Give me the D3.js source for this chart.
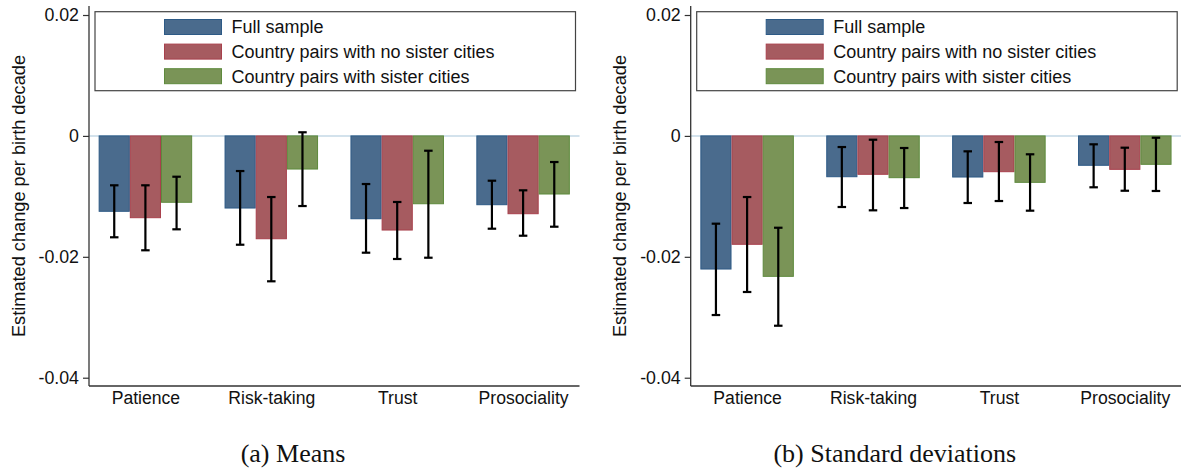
<!DOCTYPE html>
<html>
<head>
<meta charset="utf-8">
<script src="https://cdn.jsdelivr.net/npm/d3@7"></script>
<style>
  html, body { margin: 0; padding: 0; background: #fff; }
  svg { display: block; }
  text { font-family: "Liberation Sans", Arial, Helvetica, sans-serif; fill: #111; }
  .caption { font-family: "Liberation Serif", "Times New Roman", serif; }
</style>
</head>
<body>
<svg id="chart" width="1181" height="472"></svg>
<script>
// ---------- data ----------
const categories = ["Patience", "Risk-taking", "Trust", "Prosociality"];
const seriesNames = ["Full sample", "Country pairs with no sister cities", "Country pairs with sister cities"];
const yTicks = [0.02, 0, -0.02, -0.04];
const yTickLabels = ["0.02", "0", "-0.02", "-0.04"];
const yTitle = "Estimated change per birth decade";
const panelCaptions = ["(a) Means", "(b) Standard deviations"];

// Panel (a) Means: point estimates and 95% CI bounds
const meansFull       = [-0.01247, -0.01193, -0.01370, -0.01138];
const meansFullLo     = [-0.01677, -0.01800, -0.01932, -0.01535];
const meansFullHi     = [-0.00817, -0.00581, -0.00796, -0.00741];
const meansNoSister   = [-0.01353, -0.01701, -0.01557, -0.01287];
const meansNoSisterLo = [-0.01892, -0.02405, -0.02036, -0.01651];
const meansNoSisterHi = [-0.00817, -0.01011, -0.01093, -0.00900];
const meansSister     = [-0.01098, -0.00548, -0.01122, -0.00961];
const meansSisterLo   = [-0.01545, -0.01160, -0.02015, -0.01502];
const meansSisterHi   = [-0.00675,  0.00060, -0.00245, -0.00432];

// Panel (b) Standard deviations
const sdFull       = [-0.02202, -0.00675, -0.00680, -0.00486];
const sdFullLo     = [-0.02963, -0.01176, -0.01110, -0.00850];
const sdFullHi     = [-0.01452, -0.00184, -0.00255, -0.00139];
const sdNoSister   = [-0.01793, -0.00635, -0.00592, -0.00553];
const sdNoSisterLo = [-0.02582, -0.01231, -0.01077, -0.00907];
const sdNoSisterHi = [-0.01011, -0.00063, -0.00101, -0.00195];
const sdSister     = [-0.02323, -0.00691, -0.00768, -0.00470];
const sdSisterLo   = [-0.03140, -0.01193, -0.01237, -0.00911];
const sdSisterHi   = [-0.01519, -0.00200, -0.00304, -0.00030];

// ---------- styling ----------
const fills   = ["#4a6b8d", "#a65b60", "#7a9457"];
const strokes = ["#2d5a86", "#a8404c", "#5e8a3d"];

const svg = d3.select("#chart");

function buildRows(vals, lo, hi) {
  const rows = [];
  categories.forEach((c, ci) => {
    seriesNames.forEach((s, si) => {
      rows.push({ cat: c, series: s, si, v: vals[si][ci], lo: lo[si][ci], hi: hi[si][ci] });
    });
  });
  return rows;
}

const panels = [
  { dx: 0,     caption: panelCaptions[0],
    rows: buildRows([meansFull, meansNoSister, meansSister],
                    [meansFullLo, meansNoSisterLo, meansSisterLo],
                    [meansFullHi, meansNoSisterHi, meansSisterHi]) },
  { dx: 601.7, caption: panelCaptions[1],
    rows: buildRows([sdFull, sdNoSister, sdSister],
                    [sdFullLo, sdNoSisterLo, sdSisterLo],
                    [sdFullHi, sdNoSisterHi, sdSisterHi]) }
];

const plotLeft = 89, plotRight = 579.5, plotTop = 6, plotBottom = 386;
const y = d3.scaleLinear().domain([-0.04137, 0.02149]).range([plotBottom, plotTop]);
const x = d3.scalePoint().domain(categories).range([plotLeft, plotRight]).padding(0.448);
const groupW = 93.5;
const xs = d3.scaleBand().domain(seriesNames).range([-groupW / 2, groupW / 2]).padding(0);

panels.forEach(p => {
  const g = svg.append("g").attr("transform", `translate(${p.dx},0)`);

  // zero reference line
  g.append("line")
    .attr("x1", plotLeft).attr("x2", plotRight)
    .attr("y1", y(0)).attr("y2", y(0))
    .attr("stroke", "#d3e2ec").attr("stroke-width", 2);

  // bars
  g.selectAll("rect.bar").data(p.rows).enter().append("rect")
    .attr("class", "bar")
    .attr("x", d => x(d.cat) + xs(d.series) + 0.5)
    .attr("width", xs.bandwidth() - 1)
    .attr("y", d => Math.min(y(d.v), y(0)))
    .attr("height", d => Math.abs(y(d.v) - y(0)))
    .attr("fill", d => fills[d.si])
    .attr("stroke", d => strokes[d.si])
    .attr("stroke-width", 1);

  // error bars
  const capW = 8.5;
  const eb = g.selectAll("g.eb").data(p.rows).enter().append("g").attr("class", "eb");
  const cx = d => x(d.cat) + xs(d.series) + xs.bandwidth() / 2;
  eb.append("line")
    .attr("x1", cx).attr("x2", cx)
    .attr("y1", d => y(d.hi)).attr("y2", d => y(d.lo))
    .attr("stroke", "#000").attr("stroke-width", 2.2);
  eb.append("line")
    .attr("x1", d => cx(d) - capW / 2).attr("x2", d => cx(d) + capW / 2)
    .attr("y1", d => y(d.hi)).attr("y2", d => y(d.hi))
    .attr("stroke", "#000").attr("stroke-width", 2.2);
  eb.append("line")
    .attr("x1", d => cx(d) - capW / 2).attr("x2", d => cx(d) + capW / 2)
    .attr("y1", d => y(d.lo)).attr("y2", d => y(d.lo))
    .attr("stroke", "#000").attr("stroke-width", 2.2);

  // y axis
  const yAxis = d3.axisLeft(y).tickValues(yTicks)
    .tickFormat((d, i) => yTickLabels[i]).tickSize(6).tickPadding(4);
  const ya = g.append("g").attr("transform", `translate(${plotLeft},0)`).call(yAxis);
  ya.select(".domain").attr("d", `M0,${plotTop}V${plotBottom}`).attr("stroke", "#333").attr("stroke-width", 1.3);
  ya.selectAll(".tick line").attr("stroke", "#333").attr("stroke-width", 1.2);
  ya.selectAll(".tick text").style("font-size", "17.8px").attr("fill", "#111")
    .style("font-family", '"Liberation Sans", Arial, sans-serif');

  // x axis
  const xAxis = d3.axisBottom(x).tickSize(0).tickPadding(6);
  const xa = g.append("g").attr("transform", `translate(0,${plotBottom})`).call(xAxis);
  xa.select(".domain").attr("d", `M${plotLeft},0H${plotRight}`).attr("stroke", "#333").attr("stroke-width", 1.3);
  xa.selectAll(".tick text").style("font-size", "17.6px").attr("fill", "#111")
    .style("font-family", '"Liberation Sans", Arial, sans-serif')
    .attr("dy", "0.71em");

  // y title
  g.append("text")
    .attr("transform", `translate(24.5,${(plotTop + plotBottom) / 2}) rotate(-90)`)
    .attr("text-anchor", "middle")
    .style("font-size", "18.2px")
    .text(yTitle);

  // legend
  const lg = g.append("g");
  lg.append("rect")
    .attr("x", 95).attr("y", 11.7).attr("width", 480.5).attr("height", 79)
    .attr("fill", "#fff").attr("stroke", "#444").attr("stroke-width", 1.2);
  seriesNames.forEach((s, i) => {
    const ry = 19.5 + i * 24.6;
    lg.append("rect")
      .attr("x", 164.5).attr("y", ry).attr("width", 57).attr("height", 15)
      .attr("fill", fills[i]).attr("stroke", strokes[i]).attr("stroke-width", 1);
    lg.append("text")
      .attr("x", 231.5).attr("y", ry + 7.5).attr("dy", "0.36em")
      .style("font-size", "18px")
      .text(s);
  });

  // caption
  g.append("text")
    .attr("class", "caption")
    .attr("x", 293).attr("y", 462)
    .attr("text-anchor", "middle")
    .style("font-size", "26px")
    .text(p.caption);
});
</script>
</body>
</html>
